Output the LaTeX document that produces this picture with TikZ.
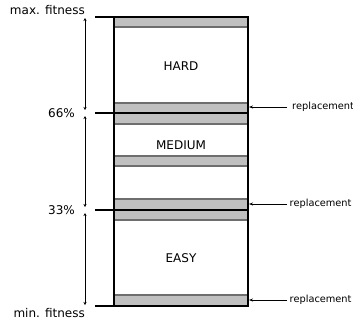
\documentclass[tikz,border=0pt]{standalone}
\usepackage{fontspec}
\setmainfont{DejaVu Sans}
\usetikzlibrary{arrows.meta,positioning}

\definecolor{stripfill}{RGB}{192,192,192}
\definecolor{stripedge}{RGB}{110,110,110}

\tikzset{
  strip/.style={draw=stripedge,line width=1.2pt,fill=stripfill},
  level/.style={line width=1.6pt},
  span/.style={{Stealth[length=3pt,width=3pt]}-{Stealth[length=3pt,width=3pt]},line width=0.6pt},
  repl/.style={-{Stealth[length=4pt,width=3pt]},line width=0.6pt},
  lbl/.style={font=\fontsize{12}{14}\selectfont,inner sep=0pt},
  small/.style={font=\fontsize{9.8}{12}\selectfont,inner sep=0pt,anchor=west},
}

\begin{document}
\begin{tikzpicture}[x=1pt,y=1pt,yscale=-1]
\useasboundingbox (0,0) rectangle (353,322);

%Shape: gray strips
\draw [strip] (114,17) rectangle (248,27);
\draw [strip] (114,103) rectangle (248,113);
\draw [strip] (114,113) rectangle (248,124);
\draw [strip] (114,156) rectangle (248,166);
\draw [strip] (114,199) rectangle (248,210);
\draw [strip] (114,210) rectangle (248,220);
\draw [strip] (114,295) rectangle (248,306);

%Shape: outer box
\draw [line width=1.6pt] (114,17) rectangle (248,306);

%Straight Lines: fitness levels
\draw [level] (95,17) -- (248,17);
\draw [level] (95,113) -- (248,113);
\draw [level] (95,210) -- (248,210);
\draw [level] (95,306) -- (248,306);

%Coordinates on the span line
\coordinate (topA) at (85,18);
\coordinate (hiB) at (85,110);
\coordinate (hiA) at (85,116);
\coordinate (loB) at (85,207);
\coordinate (loA) at (85,213);
\coordinate (botB) at (85,305);

%Straight Lines: spans
\draw [span] (topA) -- (hiB);
\draw [span] (hiA) -- (loB);
\draw [span] (loA) -- (botB);

% Text Node
\node [lbl,anchor=east] (maxfit) at (85,10) {max. fitness};
\node [lbl,anchor=east] (pct66) at (75,113) {66\%};
\node [lbl,anchor=east] (pct33) at (75,210) {33\%};
\node [lbl,anchor=east] (minfit) at (85,313) {min. fitness};

% Text Node
\node [lbl] (hard) at (181,66) {HARD};
\node [lbl] (medium) at (181,145) {MEDIUM};
\node [lbl] (easy) at (181,258) {EASY};

%Replacement arrows
\coordinate (edgeHi) at (249,107);
\coordinate (edgeLo) at (249,204);
\coordinate (edgeBot) at (249,300);
\node [small] (replHi) at (292,107) {replacement};
\node [small] (replLo) at (289.5,204) {replacement};
\node [small] (replBot) at (289.5,300) {replacement};
\draw [repl] ([xshift=-5pt]replHi.west) -- (edgeHi);
\draw [repl] ([xshift=-2.5pt]replLo.west) -- (edgeLo);
\draw [repl] ([xshift=-2.5pt]replBot.west) -- (edgeBot);

\end{tikzpicture}
\end{document}
